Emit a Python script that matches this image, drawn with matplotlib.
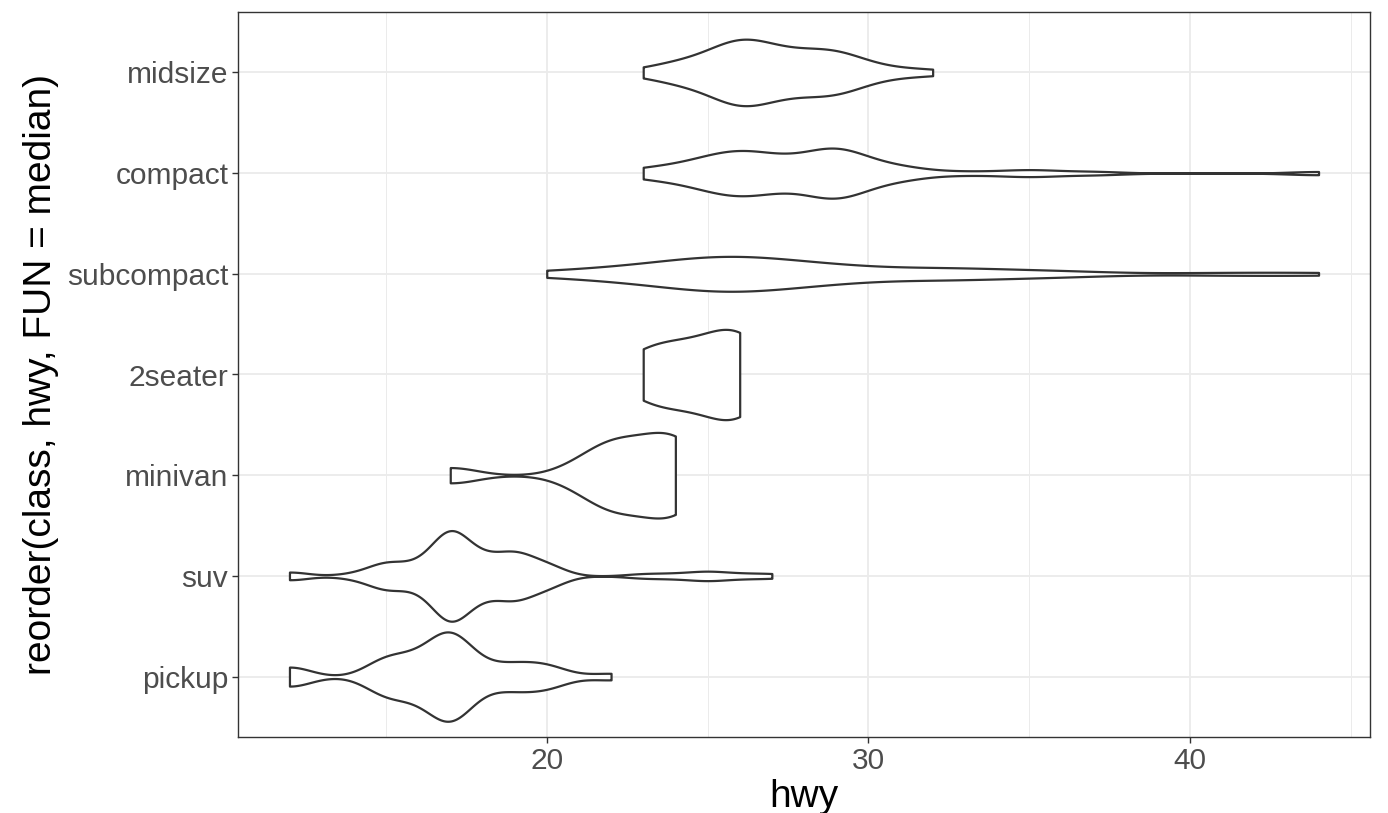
import numpy as np
import matplotlib.pyplot as plt
from matplotlib import cbook
from matplotlib.mlab import GaussianKDE

# hwy values per class (mpg data), ordered by median
classes = ["pickup", "suv", "minivan", "2seater", "subcompact", "compact", "midsize"]

hwy_pickup = [19, 18, 17, 17, 19, 12, 17, 15, 15,
              17, 12, 16, 15, 15, 17, 16, 16, 12, 17,
              17, 17, 16, 17, 17, 15, 17,
              20, 20, 22, 17, 19, 18, 20]
hwy_suv = [20, 15, 20, 17, 17,
           19, 14, 15, 17,
           17, 12, 17, 16, 18, 15, 16,
           17, 17, 18,
           19, 19, 19, 17, 18, 16,
           17, 19, 18, 17, 19, 19, 12, 17,
           15, 18, 17, 18,
           17, 17, 16,
           19, 19, 17, 17,
           17, 17, 20, 17,
           25, 24, 27, 25, 26, 23,
           20, 15, 20, 17, 17, 19,
           15, 18]
hwy_minivan = [24, 24, 22, 22, 24, 24, 17, 22, 21, 23, 23]
hwy_2seater = [26, 23, 26, 25, 24]
hwy_subcompact = [33, 32, 32, 29, 32, 34, 36, 36, 29,
                  26, 25, 26, 24, 21, 22, 23, 23, 20,
                  26, 26, 26, 28, 26, 24, 24,
                  44, 41, 29, 26, 28, 29,
                  26, 25, 27, 25]
hwy_compact = [29, 29, 31, 30, 26, 26, 27,
               26, 25, 28, 28, 25, 25, 25, 25,
               29, 27, 31, 31, 26, 26, 27,
               30, 33, 35, 37, 35,
               29, 29, 28, 29, 24,
               44, 29, 26, 29, 29, 29, 29, 23, 24,
               27, 26, 26, 23,
               29, 27]
hwy_midsize = [24, 25, 23,
               27, 30, 26, 29, 26,
               26, 27, 28, 26, 28, 27, 24,
               32, 31, 27, 26,
               26, 25, 25,
               26, 29, 28, 27, 25,
               29, 27, 30, 29, 26, 26, 28,
               29, 29, 28, 29, 26, 24, 26]

data = [hwy_pickup, hwy_suv, hwy_minivan, hwy_2seater,
        hwy_subcompact, hwy_compact, hwy_midsize]


def bw_nrd0(x):
    x = np.asarray(x, float)
    sd = x.std(ddof=1)
    q75, q25 = np.percentile(x, [75, 25])
    lo = min(sd, (q75 - q25) / 1.34)
    if lo == 0:
        lo = sd
    return 0.9 * lo * len(x) ** -0.2


def kde(x, coords):
    x = np.asarray(x, float)
    return GaussianKDE(x, bw_nrd0(x) / x.std(ddof=1)).evaluate(coords)


stats = cbook.violin_stats(data, kde, points=512)
peaks = [s["vals"].max() for s in stats]
widths = [0.9 * p / max(peaks) for p in peaks]  # scale = "area"

fig = plt.figure(figsize=(13.88, 8.13), dpi=100)
ax = fig.add_axes([238 / 1388, 1 - 737 / 813, 1132 / 1388, 725 / 813])

pos = np.arange(1, len(classes) + 1)
parts = ax.violin(stats, positions=pos, orientation="horizontal", widths=widths,
                  showmeans=False, showextrema=False, showmedians=False)
for b in parts["bodies"]:
    b.set_facecolor("white")
    b.set_edgecolor("#333333")
    b.set_linewidth(1.6)
    b.set_alpha(1)
    b.set_zorder(3)

ax.set_xlim(10.4, 45.6)
ax.set_ylim(0.4, 7.6)
ax.set_xticks([20, 30, 40])
ax.set_xticks([15, 25, 35, 45], minor=True)
ax.set_yticks(pos)
ax.set_yticklabels(classes)

ax.grid(True, which="major", color="#EBEBEB", linewidth=1.3, zorder=0)
ax.grid(True, which="minor", axis="x", color="#EBEBEB", linewidth=0.7, zorder=0)
ax.set_axisbelow(True)

for sp in ax.spines.values():
    sp.set_color("#333333")
    sp.set_linewidth(1.0)

ax.tick_params(axis="both", which="major", length=4, width=1.0, color="#333333",
               labelsize=21.5, labelcolor="#4D4D4D", pad=3)
ax.tick_params(axis="x", which="minor", length=0)
for lab in ax.get_xticklabels() + ax.get_yticklabels():
    lab.set_family("Liberation Sans")

ax.set_xlabel("hwy", fontsize=28, family="Liberation Sans", labelpad=3)
ax.set_ylabel("reorder(class, hwy, FUN = median)", fontsize=28,
              family="Liberation Sans", labelpad=6)

fig.savefig("out.png", dpi=100)
